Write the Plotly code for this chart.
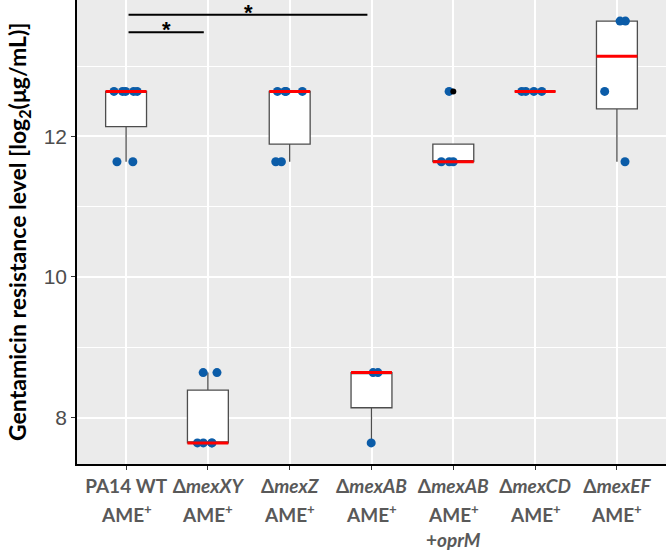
import numpy as np
import plotly.graph_objects as go

# ---- data (log2 MIC values per strain) ----
CATEGORIES = ["PA14 WT", "ΔmexXY", "ΔmexZ", "ΔmexAB", "ΔmexAB +oprM", "ΔmexCD", "ΔmexEF"]
LINE1 = ["PA14 WT", "Δ<i>mexXY</i>", "Δ<i>mexZ</i>", "Δ<i>mexAB</i>",
         "Δ<i>mexAB</i>", "Δ<i>mexCD</i>", "Δ<i>mexEF</i>"]
LINE2 = ["AME<sup>+</sup>"] * 7
LINE3 = ["", "", "", "", "+<i>oprM</i>", "", ""]

PA14_WT = [12.64, 12.64, 12.64, 12.64, 12.64, 11.64, 11.64]
MEXXY = [7.64, 7.64, 7.64, 7.64, 8.64, 8.64]
MEXZ = [12.64, 12.64, 12.64, 12.64, 11.64, 11.64]
MEXAB = [8.64, 8.64, 7.64]
MEXAB_OPRM = [12.64, 11.64, 11.64, 11.64]
MEXCD = [12.64, 12.64, 12.64, 12.64]
MEXEF = [13.64, 13.64, 12.64, 11.64]
GROUPS = [PA14_WT, MEXXY, MEXZ, MEXAB, MEXAB_OPRM, MEXCD, MEXEF]

Y_TICKS = [8, 10, 12]
Y_MINOR = [9, 11, 13]

# significance comparisons: (group a, group b, bar level, label)
SIG = [(0, 1, 13.48, "*"), (0, 3, 13.73, "*")]

# ---- style ----
BOX_W = 0.5
PT_COLOR = "#0B5CA8"
BOX_LINE = "#4D4D4D"
FONT_LBL = "Lato"

# ---- stats (ggplot / R type 7 quantiles) ----
q1s, meds, q3s, lfs, ufs, outl_x, outl_y = [], [], [], [], [], [], []
for i, g in enumerate(GROUPS):
    a = np.array(g, dtype=float)
    q1, med, q3 = np.percentile(a, [25, 50, 75])
    iqr = q3 - q1
    lo_lim, hi_lim = q1 - 1.5 * iqr, q3 + 1.5 * iqr
    inside = a[(a >= lo_lim) & (a <= hi_lim)]
    q1s.append(q1); meds.append(med); q3s.append(q3)
    lfs.append(inside.min()); ufs.append(inside.max())
    for v in a[(a < lo_lim) | (a > hi_lim)]:
        outl_x.append(i); outl_y.append(v)

xs = list(range(len(GROUPS)))
fig = go.Figure()

fig.add_trace(go.Box(
    x=xs, q1=q1s, median=meds, q3=q3s, lowerfence=lfs, upperfence=ufs,
    width=BOX_W, fillcolor="white", line=dict(color=BOX_LINE, width=1.3),
    whiskerwidth=0, boxpoints=False, showlegend=False, hoverinfo="skip"))

# red medians
mx, my = [], []
for i, m in enumerate(meds):
    mx += [i - BOX_W / 2, i + BOX_W / 2, None]
    my += [m, m, None]
fig.add_trace(go.Scatter(x=mx, y=my, mode="lines", line=dict(color="#FF0000", width=3),
                         showlegend=False, hoverinfo="skip"))

# outliers (ggplot black dots)
fig.add_trace(go.Scatter(x=outl_x, y=outl_y, mode="markers",
                         marker=dict(color="black", size=6), showlegend=False))

# jittered points
px, py = [], []
for i, g in enumerate(GROUPS):
    px += [i] * len(g); py += g
fig.add_trace(go.Box(
    x=px, y=py, width=BOX_W, boxpoints="all", jitter=0.7, pointpos=0,
    fillcolor="rgba(0,0,0,0)", line=dict(color="rgba(0,0,0,0)", width=0),
    marker=dict(color=PT_COLOR, size=9, opacity=1),
    showlegend=False, hoverinfo="skip"))

# significance bars
for a, b, lvl, lab in SIG:
    fig.add_trace(go.Scatter(x=[a + 0.03, b - 0.05], y=[lvl, lvl], mode="lines",
                             line=dict(color="black", width=2), showlegend=False,
                             hoverinfo="skip"))
    fig.add_annotation(x=(a + b) / 2, y=lvl, text="<b>" + lab + "</b>", showarrow=False,
                       yanchor="bottom", yshift=-12, font=dict(size=22, color="black",
                                                               family="Liberation Sans"))

# second / third line of x labels
for i in xs:
    fig.add_annotation(x=i, y=0, xref="x", yref="paper", text="<b>" + LINE2[i] + "</b>",
                       showarrow=False, yanchor="middle", yshift=-49,
                       font=dict(size=19, color="#595959", family=FONT_LBL))
    if LINE3[i]:
        fig.add_annotation(x=i, y=0, xref="x", yref="paper", text="<b>" + LINE3[i] + "</b>",
                           showarrow=False, yanchor="middle", yshift=-75,
                           font=dict(size=19, color="#595959", family=FONT_LBL))

# y title
fig.add_annotation(x=0, y=0.5, xref="paper", yref="paper", textangle=-90,
                   text="<b>Gentamicin resistance level [log<sub>2</sub>(μg/mL)]</b>",
                   showarrow=False, xanchor="center", yanchor="middle", xshift=-59,
                   font=dict(size=23, color="black", family=FONT_LBL))

fig.update_layout(
    width=666, height=551, margin=dict(l=77, r=0, t=0, b=87),
    paper_bgcolor="white", plot_bgcolor="#EBEBEB", boxmode="overlay",
    showlegend=False,
)
fig.update_xaxes(
    range=[-0.6, 6.6], tickmode="array", tickvals=xs,
    ticktext=["<b>" + t + "</b>" for t in LINE1],
    tickfont=dict(size=19, color="#595959", family=FONT_LBL),
    showgrid=True, gridcolor="white", gridwidth=1.5, zeroline=False,
    showline=True, linecolor="black", linewidth=1.5,
    ticks="outside", ticklen=4, tickcolor="#333333", tickwidth=1.2,
)
fig.update_yaxes(
    range=[7.34, 13.94], tickmode="array", tickvals=Y_TICKS,
    tickfont=dict(size=21, color="#4D4D4D", family="Liberation Sans"),
    showgrid=True, gridcolor="white", gridwidth=1.5, zeroline=False,
    showline=True, linecolor="black", linewidth=1.5,
    ticks="outside", ticklen=4, tickcolor="#333333", tickwidth=1.2,
    minor=dict(tickvals=Y_MINOR, showgrid=True, gridcolor="white", gridwidth=0.8, ticks=""),
)

fig.write_html("out.html", config={"displayModeBar": False},
               post_script="document.body.style.margin='0px';")
